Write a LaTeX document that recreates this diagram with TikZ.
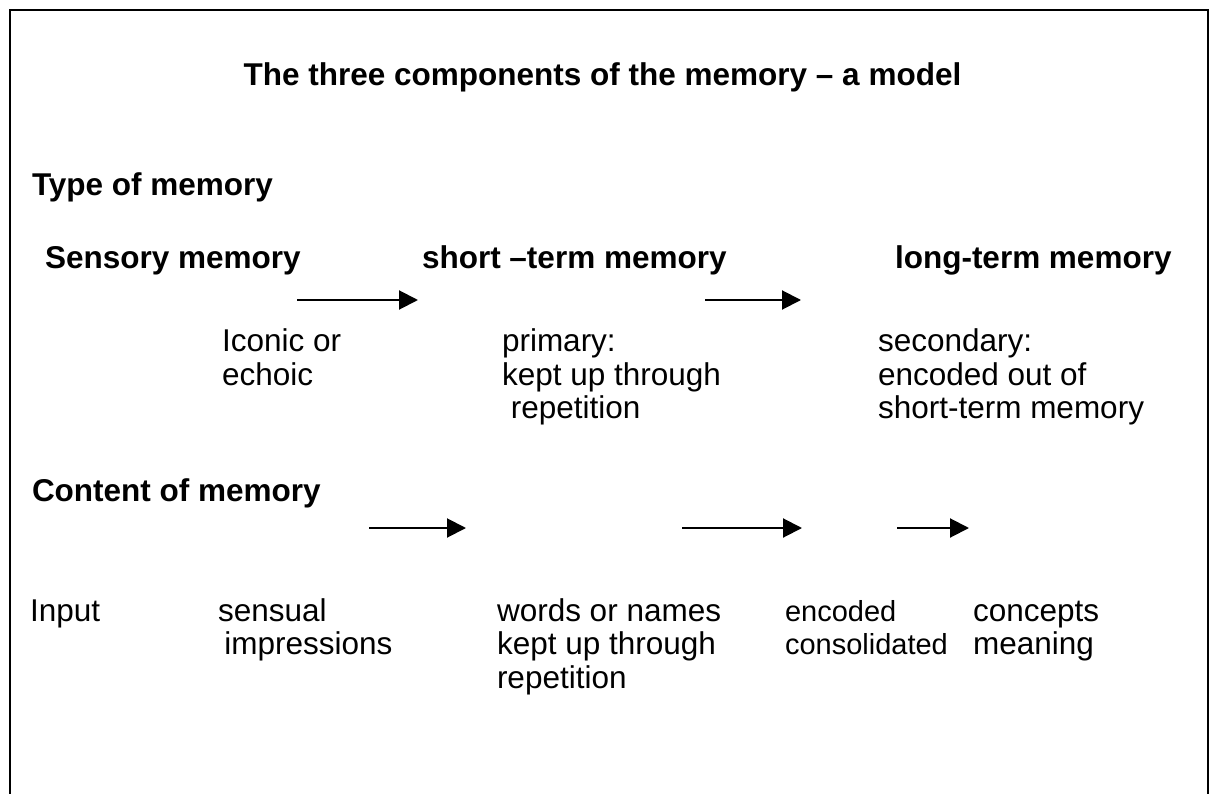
\documentclass[tikz,border=0pt]{standalone}
\usepackage{fontspec}
\setmainfont{Liberation Sans}
\usetikzlibrary{arrows.meta}
\tikzset{
  txt/.style={anchor=base west, inner sep=0pt, outer sep=0pt, align=left,
    font=\fontsize{31.5}{33.5}\selectfont},
  hd/.style={txt, font=\fontsize{31.5}{33.5}\selectfont\bfseries},
  smalltxt/.style={txt, font=\fontsize{29}{33.5}\selectfont},
  arr/.style={line width=2pt, -{Triangle[length=19pt,width=19pt]}},
  frame/.style={line width=2pt}
}
\begin{document}
\begin{tikzpicture}[x=1pt,y=-1pt]
\useasboundingbox (0,0) rectangle (1209,794);
\clip (0,0) rectangle (1209,794);
\draw[frame] (9.5,10) rectangle (1207.5,810);
% title
\node[hd, anchor=base] (title) at (602.5,86) {The three components of the memory -- a model};
\node[hd] (type) at (32,196) {Type of memory};
\node[hd] (sens) at (45,269) {Sensory memory};
\node[hd] (stm) at (422,269) {short --term memory};
\node[hd] (ltm) at (895,269) {long-term memory};
% arrows row 1
\coordinate (a1s) at (297,300); \coordinate (a1e) at (418,300);
\coordinate (a2s) at (705,300); \coordinate (a2e) at (801,300);
\draw[arr] (a1s) -- (a1e);
\draw[arr] (a2s) -- (a2e);
% descriptions (base anchor = baseline of last line)
\node[txt] (icon) at (222,385) {Iconic or\\echoic};
\node[txt] (prim) at (502,418.5) {primary:\\kept up through\\\hspace*{0.28em}repetition};
\node[txt] (sec) at (878,418.5) {secondary:\\encoded out of\\short-term memory};
% content
\node[hd] (cont) at (32,501) {Content of memory};
% arrows row 2
\coordinate (b1s) at (369,528); \coordinate (b1e) at (466,528);
\coordinate (b2s) at (682,528); \coordinate (b2e) at (802,528);
\coordinate (b3s) at (897,528); \coordinate (b3e) at (969,528);
\draw[arr] (b1s) -- (b1e);
\draw[arr] (b2s) -- (b2e);
\draw[arr] (b3s) -- (b3e);
% bottom row
\node[txt] (inp) at (30,621) {Input};
\node[txt] (sensual) at (218,654.5) {sensual\\\hspace*{0.2em}impressions};
\node[txt] (words) at (497,688) {words or names\\kept up through\\repetition};
\node[smalltxt] (enc) at (785,654.5) {encoded\\consolidated};
\node[txt] (conc) at (973,654.5) {concepts\\meaning};
\end{tikzpicture}
\end{document}
